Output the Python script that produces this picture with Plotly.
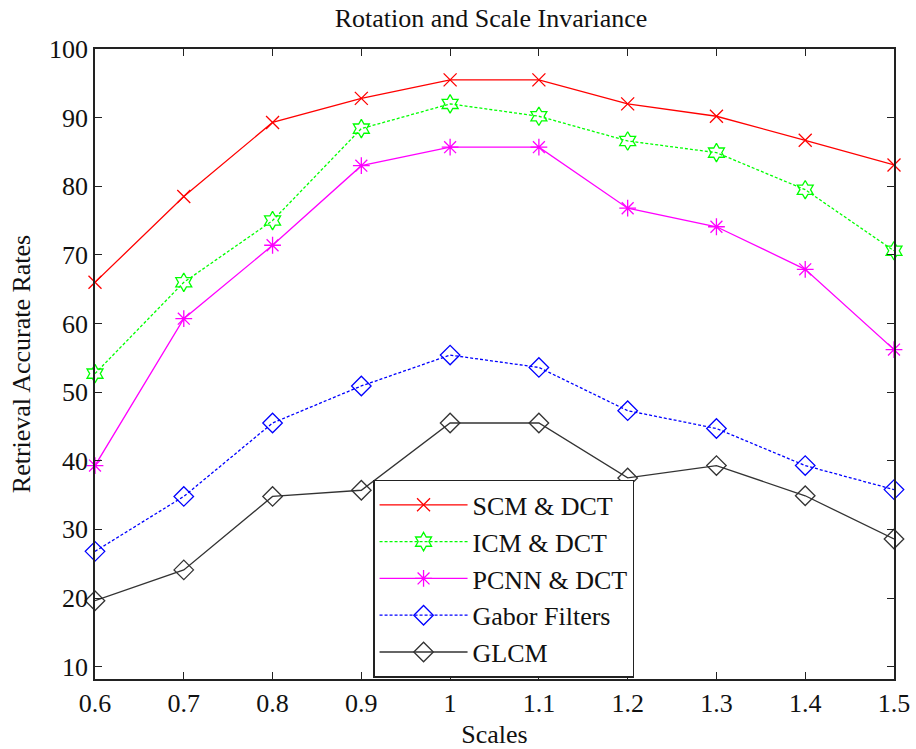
import plotly.graph_objects as go

scales = [0.6, 0.7, 0.8, 0.9, 1.0, 1.1, 1.2, 1.3, 1.4, 1.5]
scm_dct = [66.0, 78.5, 89.3, 92.8, 95.5, 95.5, 92.0, 90.2, 86.7, 83.1]
icm_dct = [52.7, 66.0, 75.0, 88.4, 92.0, 90.2, 86.6, 84.9, 79.5, 70.6]
pcnn_dct = [39.3, 60.7, 71.4, 83.0, 85.7, 85.7, 76.8, 74.1, 67.9, 56.2]
gabor = [26.8, 34.8, 45.5, 50.9, 55.4, 53.6, 47.3, 44.7, 39.3, 35.8]
glcm = [19.6, 24.1, 34.8, 35.7, 45.5, 45.5, 37.5, 39.3, 34.9, 28.6]

x_ticks = [0.6, 0.7, 0.8, 0.9, 1.0, 1.1, 1.2, 1.3, 1.4, 1.5]
x_ticklabels = ["0.6", "0.7", "0.8", "0.9", "1", "1.1", "1.2", "1.3", "1.4", "1.5"]
y_ticks = [10, 20, 30, 40, 50, 60, 70, 80, 90, 100]

series = [
    ("SCM & DCT", scm_dct, "#ff0000", "solid", "x-thin-open", 13),
    ("ICM & DCT", icm_dct, "#00ff00", "3px,2px", "hexagram-open", 14),
    ("PCNN & DCT", pcnn_dct, "#ff00ff", "solid", "asterisk-open", 14),
    ("Gabor Filters", gabor, "#0000ff", "3px,2px", "diamond-open", 15),
    ("GLCM", glcm, "#333333", "solid", "diamond-open", 15),
]

fig = go.Figure()
for name, vals, color, dash, sym, size in series:
    fig.add_trace(go.Scatter(
        x=scales, y=vals, name=name, mode="lines+markers",
        line=dict(color=color, width=1.3, dash=dash),
        marker=dict(symbol=sym, size=size, color=color,
                    line=dict(color=color, width=1.3)),
        cliponaxis=False,
    ))

font_family = "Liberation Serif, Times New Roman, serif"
fsize = 26
axis_common = dict(
    showgrid=False, zeroline=False, showline=True, linecolor="#222222",
    linewidth=1.5, mirror="ticks", ticks="inside", ticklen=7,
    tickcolor="#222222", automargin=False,
    tickfont=dict(family=font_family, size=fsize, color="#111111"),
)

fig.update_layout(
    width=916, height=749,
    margin=dict(l=95, r=22, t=49, b=70),
    paper_bgcolor="white", plot_bgcolor="white",
    title=dict(text="Rotation and Scale Invariance", x=0.536, xanchor="center",
               y=0.976, yanchor="middle",
               font=dict(family=font_family, size=fsize, color="#111111")),
    xaxis=dict(range=[0.6, 1.5], tickvals=x_ticks, ticktext=x_ticklabels,
               title=dict(text="Scales", font=dict(family=font_family, size=fsize, color="#111111"), standoff=8),
               **axis_common),
    yaxis=dict(range=[8.2, 100], tickvals=y_ticks,
               title=dict(text="Retrieval Accurate Rates", font=dict(family=font_family, size=fsize, color="#111111"), standoff=11),
               **axis_common),
    legend=dict(x=0.348, y=0.316, xanchor="left", yanchor="top",
                bgcolor="white", bordercolor="#222222", borderwidth=1.5,
                font=dict(family=font_family, size=fsize, color="#111111"),
                itemwidth=88),
    showlegend=True,
)

fig.write_html("out.html", config={"displayModeBar": False},
               post_script="document.body.style.margin='0';")
